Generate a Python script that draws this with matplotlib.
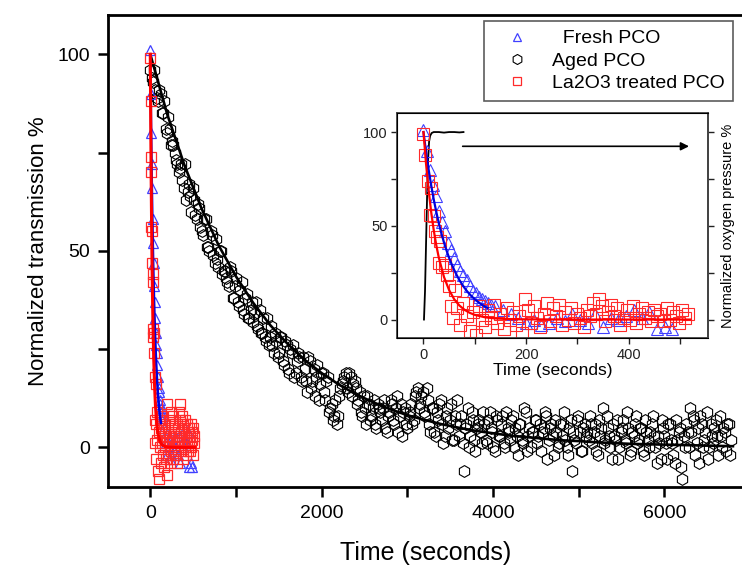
import numpy as np
import matplotlib
matplotlib.use("Agg")
import matplotlib.pyplot as plt
from matplotlib.ticker import MultipleLocator

plt.rcParams['font.family'] = ['Liberation Sans', 'DejaVu Sans']

# --- aged PCO, readings every 30 s (two interleaved passes) ---
t_aged = np.arange(0, 6790, 30)
v_aged = [
    96, 93, 91, 88, 90, 85, 81, 84, 77, 77,
    73, 70, 72, 66, 63, 67, 60, 63, 58, 61,
    55, 58, 51, 50, 54, 47, 48, 50, 44, 45,
    42, 46, 38, 41, 37, 40, 35, 38, 33, 35,
    32, 37, 30, 29, 33, 27, 26, 31, 24, 27,
    24, 28, 21, 26, 19, 24, 18, 22, 23, 17,
    20, 14, 22, 17, 13, 21, 16, 19, 12, 18,
    10, 7, 12, 8, 15, 17, 19, 14, 18, 16,
    15, 12, 9, 13, 6, 11, 8, 12, 5, 10,
    7, 12, 4, 9, 11, 6, 13, 8, 3, 10,
    5, 9, 6, 13, 15, 11, 14, 8, 12, 4,
    10, 3, 7, 12, 1, 8, 5, 11, 2, 6,
    3, 8, -6, 6, 0, 9, 2, 5, 7, 1,
    6, 1, 9, 4, -1, 7, 3, 8, 0, 5,
    2, 8, 5, -2, 6, 1, 9, 3, 0, 4,
    7, 3, -1, 5, 8, 2, 6, -2, 4, 1,
    3, 9, 0, 5, -6, 2, 7, 4, -1, 6,
    4, 8, 1, 6, -2, 3, 10, 2, 5, 0,
    6, 2, -3, 4, 7, 1, 5, -1, 3, 8,
    2, 5, -2, 4, 0, 6, 3, -4, 1, 7,
    3, -3, 6, 1, -4, 2, 5, -8, 0, 4,
    10, 8, -2, 5, 8, 0, 4, -3, 6, 1,
    7, -2, 3, 5, -1, 6, 2,
]
t_aged_b = np.arange(15, 6790, 30)
v_aged_b = [
    94, 96, 89, 91, 85, 88, 80, 81, 78, 75,
    72, 71, 68, 72, 65, 64, 66, 59, 62, 56,
    54, 58, 51, 55, 49, 53, 46, 50, 45, 43,
    41, 45, 38, 43, 36, 42, 34, 39, 33, 37,
    34, 31, 35, 29, 28, 33, 28, 26, 29, 23,
    28, 22, 27, 20, 25, 26, 19, 24, 18, 23,
    17, 23, 15, 20, 18, 12, 19, 14, 17, 9,
    11, 8, 6, 13, 16, 18, 15, 19, 13, 17,
    11, 14, 8, 10, 13, 7, 10, 6, 11, 9,
    10, 5, 8, 12, 7, 10, 4, 11, 9, 6,
    8, 11, 7, 14, 10, 13, 9, 15, 6, 10,
    4, 9, 11, 6, 3, 10, 7, 2, 8, 12,
    6, 1, 5, 10, 3, 7, -1, 6, 4, 9,
    2, 7, 5, 0, 8, 3, 6, 1, 9, 4,
    7, 0, 3, 6, 2, 10, -1, 5, 4, 7,
    1, 6, 4, 9, -3, 5, 3, 7, 0, 6,
    6, 2, -2, 7, 4, 1, 8, -1, 5, 3,
    2, 6, 4, -1, 7, 5, 1, 8, 3, -3,
    3, 7, 0, 5, 2, 9, -2, 4, 6, 1,
    5, -1, 7, 2, 4, 8, 0, 3, -3, 5,
    1, 6, 2, -2, 7, 4, -5, 3, 6, 0,
    4, 7, 1, -4, 6, 2, 9, 0, 3, 5,
    3, 8, 0, 4, 6, -2,
]
# fitted decay for aged PCO, read every 200 s
t_aged_fit = np.arange(0, 6801, 200)
v_aged_fit = [100, 84.6, 71.7, 60.7, 51.3, 43.5, 36.8, 31.1, 26.4, 22.3,
              18.9, 16.0, 13.5, 11.5, 9.7, 8.2, 7.0, 5.9, 5.0, 4.2,
              3.6, 3.0, 2.6, 2.2, 1.8, 1.6, 1.3, 1.1, 0.9, 0.8,
              0.7, 0.6, 0.5, 0.4, 0.3]

# --- fresh PCO ---
t_fresh = list(np.arange(0, 133, 6)) + list(np.arange(140, 491, 15))
v_fresh = [101, 90, 80, 72, 66, 58, 52, 47, 41, 37, 33, 29, 26, 24, 21, 18,
           15, 14, 12, 11, 10, 9, 8,
           7, 5, 3, 1, -2, 0, -3, -2, 1, -1, 3, 0, -2, 3, -4, 1, 0, 2,
           5, 1, 4, -5, -4, -5]
t_fresh_fit = np.arange(0, 126, 5)
v_fresh_fit = [100, 89.5, 80.1, 71.7, 64.1, 57.4, 51.3, 45.9, 41.1, 36.8,
               32.9, 29.5, 26.4, 23.6, 21.1, 18.9, 16.9, 15.1, 13.5, 12.1,
               10.8, 9.7, 8.7, 7.7, 6.9, 6.2]

# --- La2O3 treated PCO ---
t_la = [0, 3, 8, 12, 14, 20, 23, 26, 30, 33, 37, 42, 46, 50, 54, 58, 62] + \
       list(np.arange(66, 520, 6))
v_la = [99, 88, 74, 56, 70, 55, 47, 44, 30, 42, 28, 29, 24, 18, 7, 1, 16,
        6, -3, 9, 2, -6, 4, -8, 7, 0, -4, 5,
        1, 8, -2, 3, -5, 6, 0, 4, -3, 2, -7,
        11, 5, -2, 7, 1, -4, 3, 9, -1, 6, 2,
        8, -3, 4, 0, 6, -2, 3, 1, -4, 5, 2,
        9, 3, 11, 7, -1, 4, 8, 2, 6, -3, 1,
        5, 0, 7, -2, 3, 6, 1, 4, -1, 5, 2,
        3, -1, 6, 0, 4, 2, -2, 5, 1, 3]
t_la_fit = [0, 5, 10, 15, 20, 25, 30, 40, 50, 60, 70, 80, 90, 100, 120,
            140, 170, 200, 300, 400, 520]
v_la_fit = [100, 83.1, 69.1, 57.4, 47.7, 39.6, 32.9, 22.7, 15.7, 10.8, 7.5,
            5.2, 3.6, 2.5, 1.2, 0.6, 0.2, 0.1, 0, 0, 0]

# --- oxygen pressure (inset) ---
t_o2 = [1, 3, 5, 7, 9, 11, 13, 16, 20, 30, 40, 50, 60, 70, 78]
v_o2 = [0, 15, 40, 65, 85, 95, 98, 99.5, 100, 100, 99.7, 100, 100, 99.8, 100]

blue_pt = '#4040ff'
red_pt = '#ff2a2a'

fig = plt.figure(figsize=(7.42, 5.68), dpi=100)
ax = fig.add_axes([108.3 / 742, 1 - 486.7 / 568, 1 - 108.3 / 742, (486.7 - 15) / 568])

ax.plot(t_aged, v_aged, ls='none', marker='h', ms=8.5, mfc='none', mec='black',
        mew=0.8, label='Aged PCO')
ax.plot(t_aged_b, v_aged_b, ls='none', marker='h', ms=8.5, mfc='none', mec='black',
        mew=0.8)
ax.plot(t_aged_fit, v_aged_fit, color='black', lw=1.9)
ax.plot(t_fresh, v_fresh, ls='none', marker='^', ms=7.5, mfc='none', mec=blue_pt,
        mew=0.9, label='  Fresh PCO')
ax.plot(t_la, v_la, ls='none', marker='s', ms=7, mfc='none', mec=red_pt,
        mew=0.9, label='La2O3 treated PCO')
ax.plot(t_fresh_fit, v_fresh_fit, color='#0000dd', lw=1.8)
ax.plot(t_la_fit, v_la_fit, color='red', lw=2.2)

ax.set_xlim(-490, 6906)
ax.set_ylim(-10, 110)
ax.set_xticks([0, 2000, 4000, 6000])
ax.set_yticks([0, 50, 100])
ax.xaxis.set_minor_locator(MultipleLocator(1000))
ax.yaxis.set_minor_locator(MultipleLocator(25))
ax.tick_params(which='both', direction='out', length=7, width=1.8,
               labelsize=14, pad=6, top=False, right=False)
ax.spines['right'].set_visible(False)
for s in ['left', 'bottom', 'top']:
    ax.spines[s].set_linewidth(2)
ax.set_xlabel('Time (seconds)', fontsize=18, labelpad=14)
ax.set_ylabel('Normalized transmission %', fontsize=16, labelpad=6)

h, l = ax.get_legend_handles_labels()
order = [1, 0, 2]
leg = fig.legend([h[i] for i in order], [l[i] for i in order],
                 loc='upper right', bbox_to_anchor=(733 / 742, 1 - 21 / 568),
                 borderaxespad=0, fontsize=14, frameon=True, fancybox=False,
                 markerscale=0.85, labelspacing=0.25, handlelength=2.4,
                 handletextpad=0.6, borderpad=0.45)
leg.get_frame().set_edgecolor('#333333')
leg.get_frame().set_linewidth(1.2)

# --- inset ---
axi = fig.add_axes([397.3 / 742, 1 - 338.3 / 568, (707.7 - 397.3) / 742,
                    (338.3 - 113.3) / 568])
axi.plot(t_o2, v_o2, color='black', lw=1.3)
axi.plot(t_fresh, v_fresh, ls='none', marker='^', ms=8.5, mfc='none', mec=blue_pt,
         mew=0.8)
axi.plot(t_la, v_la, ls='none', marker='s', ms=8, mfc='none', mec=red_pt, mew=0.8)
axi.plot(t_fresh_fit, v_fresh_fit, color='#0000dd', lw=1.6)
axi.plot(t_la_fit, v_la_fit, color='red', lw=1.6)
axi.annotate('', xy=(523, 92.4), xytext=(71, 92.4),
             arrowprops=dict(arrowstyle='-|>', color='black', lw=1.2,
                             mutation_scale=12))
axi.set_xlim(-51, 554)
axi.set_ylim(-10, 110)
axi.set_xticks([0, 200, 400])
axi.set_yticks([0, 50, 100])
axi.xaxis.set_minor_locator(MultipleLocator(100))
axi.yaxis.set_minor_locator(MultipleLocator(25))
axi.tick_params(which='both', direction='out', length=4, width=1,
                labelsize=10.5, pad=3, colors='#222222')
for s in axi.spines.values():
    s.set_linewidth(1.3)
    s.set_color('#444444')
axi.set_xlabel('Time (seconds)', fontsize=12.5, labelpad=1)

axr = axi.twinx()
axr.set_ylim(-10, 110)
axr.set_yticks([0, 50, 100])
axr.yaxis.set_minor_locator(MultipleLocator(25))
axr.set_yticklabels([])
axr.tick_params(which='both', direction='out', length=4, width=1, colors='#222222')
axr.spines['right'].set_linewidth(1.3)
axr.spines['right'].set_color('#444444')
axr.set_ylabel('Normalized oxygen pressure %', fontsize=10.5, labelpad=2)

fig.savefig('out.png', dpi=100)
